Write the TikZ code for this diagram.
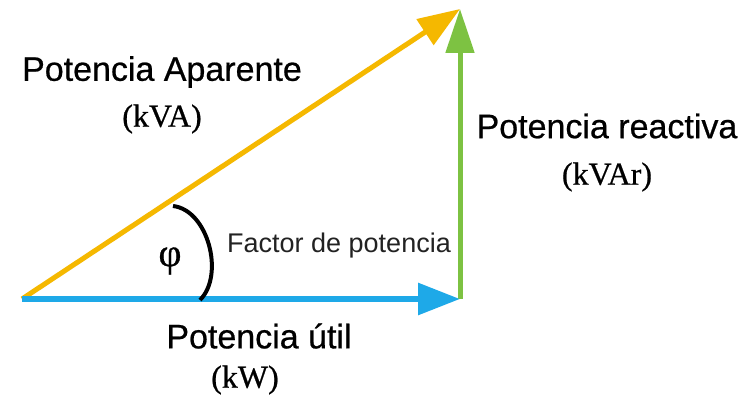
\documentclass[tikz,border=0pt]{standalone}
\usepackage{fontspec}
\setmainfont{Liberation Serif}
\setsansfont{Liberation Sans}
\newfontfamily\lblfont[FakeBold=0.6]{Liberation Sans}
\newfontfamily\unitfont[FakeBold=0.6]{Liberation Serif}
\usetikzlibrary{arrows.meta}
\definecolor{pyellow}{HTML}{F5B800}
\definecolor{pblue}{HTML}{1EA9E8}
\definecolor{pgreen}{HTML}{7DC242}
\definecolor{pgray}{HTML}{222222}
\tikzset{
  vec/.style={line width=5pt},
  lbl/.style={font=\lblfont\fontsize{34}{38}\selectfont, inner sep=0pt},
  unit/.style={font=\unitfont\fontsize{32}{36}\selectfont, inner sep=0pt},
}
\begin{document}
\begin{tikzpicture}[x=1pt,y=-1pt]
\useasboundingbox[fill=white] (0,0) rectangle (750,401);
\coordinate (O) at (22,299);
\coordinate (X) at (460,299);
\coordinate (Y) at (460,9);
\coordinate (A0) at (173,206);
\coordinate (A1) at (200,300);
% vectors
\draw[vec,pgreen,-{Triangle[length=44pt,width=28pt]}] (X) -- (Y);
\draw[vec,pyellow,-{Triangle[length=42pt,width=30pt]}] (O) -- (Y);
\draw[line width=6pt,pblue,-{Triangle[length=42pt,width=31pt]}] (O) -- (X);
% angle arc
\draw[line width=4pt,black] (A0) .. controls (208,210) and (225,275) .. (A1);
% labels
\node[lbl] (ap) at (162,72) {Potencia Aparente};
\node[unit] (apu) at (162,119) {(kVA)};
\node[lbl] (re) at (607,126) {Potencia reactiva};
\node[unit] (reu) at (607,177) {(kVAr)};
\node[lbl] (ut) at (259,336) {Potencia útil};
\node[unit] (utu) at (245,380) {(kW)};
\node[font=\sffamily\fontsize{27}{30}\selectfont, text=pgray, inner sep=0pt] (fp) at (339,246) {Factor de potencia};
\node[font=\unitfont\fontsize{40}{44}\selectfont, inner sep=0pt] (phi) at (170,261) {φ};
\end{tikzpicture}
\end{document}
